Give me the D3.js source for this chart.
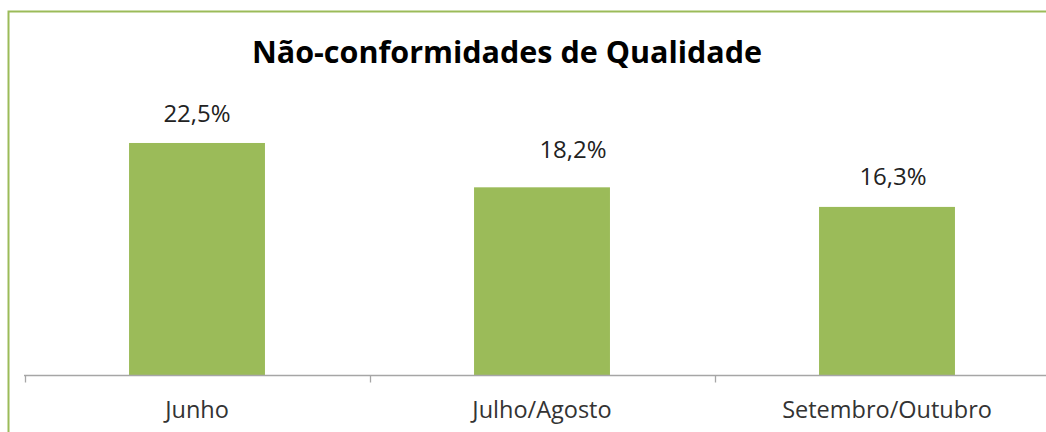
<!DOCTYPE html>
<html><head><meta charset="utf-8">
<script src="https://cdn.jsdelivr.net/npm/d3@7"></script>
<style>
html,body{margin:0;padding:0;background:#fff;}
svg{display:block;font-family:"Open Sans","Noto Sans",sans-serif;}
</style></head>
<body><svg id="c" width="1046" height="432"></svg>
<script>
const categories = ["Junho", "Julho/Agosto", "Setembro/Outubro"];
const values = [22.5, 18.2, 16.3];
const valueLabels = ["22,5%", "18,2%", "16,3%"];
const titleText = "Não-conformidades de Qualidade";
// manual label nudges (layout only)
const labelDx = [0, 31, 6];
const labelDy = [-21, -29, -22];

const svg = d3.select("#c");
const green = "#9bbb59";

svg.append("rect").attr("x", 8.5).attr("y", 11.5).attr("width", 1100).attr("height", 500)
  .attr("fill", "none").attr("stroke", green).attr("stroke-width", 2);

const x = d3.scaleBand().domain(categories).range([24.5, 1059.5]).paddingInner(0.606).paddingOuter(0.303);
const y = d3.scaleLinear().domain([0, 25]).range([375, 117.2]);

svg.append("text").attr("x", 507).attr("y", 63).attr("text-anchor", "middle")
  .attr("font-size", 30.5).attr("font-weight", "bold").attr("fill", "#000").text(titleText);

svg.selectAll("rect.bar").data(values).join("rect").attr("class", "bar")
  .attr("x", (d, i) => x(categories[i])).attr("width", x.bandwidth())
  .attr("y", d => y(d)).attr("height", d => y(0) - y(d)).attr("fill", green);

svg.selectAll("text.val").data(values).join("text").attr("class", "val")
  .attr("x", (d, i) => x(categories[i]) + x.bandwidth() / 2 + labelDx[i])
  .attr("y", (d, i) => y(d) + labelDy[i])
  .attr("text-anchor", "middle").attr("font-size", 24).attr("fill", "#222")
  .text((d, i) => valueLabels[i]);

const ax = svg.append("g").attr("transform", "translate(0,375.5)");
ax.append("line").attr("x1", 24).attr("x2", 1046).attr("stroke", "#a6a6a6").attr("stroke-width", 1.3);
const step = x.step();
const boundaries = [0, 1, 2].map(i => x.range()[0] + i * step);
ax.selectAll("line.tk").data(boundaries).join("line").attr("class", "tk")
  .attr("x1", d => Math.round(d) + 0.5).attr("x2", d => Math.round(d) + 0.5)
  .attr("y1", 0).attr("y2", 7).attr("stroke", "#a6a6a6").attr("stroke-width", 1.3);
ax.selectAll("text").data(categories).join("text")
  .attr("x", d => x(d) + x.bandwidth() / 2).attr("y", 42)
  .attr("text-anchor", "middle").attr("font-size", 23.5).attr("fill", "#333").text(d => d);
</script></body></html>
